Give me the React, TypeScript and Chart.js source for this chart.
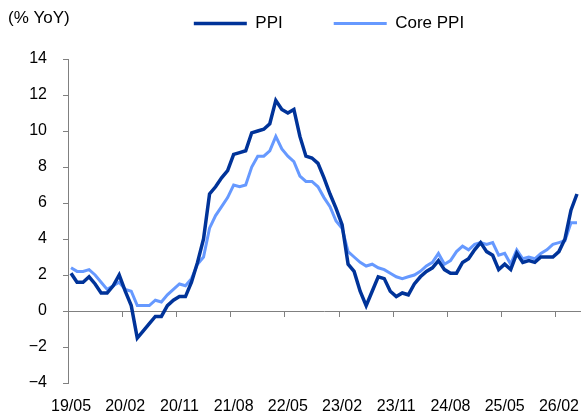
import React, { useEffect, useRef } from 'react';
import { Chart, registerables } from 'chart.js';

Chart.register(...registerables);

const months = [
  '19/05', '19/06', '19/07', '19/08', '19/09', '19/10', '19/11', '19/12',
  '20/01', '20/02', '20/03', '20/04', '20/05', '20/06', '20/07', '20/08', '20/09', '20/10', '20/11', '20/12',
  '21/01', '21/02', '21/03', '21/04', '21/05', '21/06', '21/07', '21/08', '21/09', '21/10', '21/11', '21/12',
  '22/01', '22/02', '22/03', '22/04', '22/05', '22/06', '22/07', '22/08', '22/09', '22/10', '22/11', '22/12',
  '23/01', '23/02', '23/03', '23/04', '23/05', '23/06', '23/07', '23/08', '23/09', '23/10', '23/11', '23/12',
  '24/01', '24/02', '24/03', '24/04', '24/05', '24/06', '24/07', '24/08', '24/09', '24/10', '24/11', '24/12',
  '25/01', '25/02', '25/03', '25/04', '25/05', '25/06', '25/07', '25/08', '25/09', '25/10', '25/11', '25/12',
  '26/01', '26/02', '26/03', '26/04', '26/05',
];

const tickLabels = ['19/05', '20/02', '20/11', '21/08', '22/05', '23/02', '23/11', '24/08', '25/05', '26/02'];

const ppi = [
  2.1, 1.6, 1.6, 1.9, 1.5, 1.0, 1.0, 1.4, 2.0, 1.1,
  0.3, -1.5, -1.1, -0.7, -0.3, -0.3, 0.3, 0.6, 0.8, 0.8,
  1.6, 2.7, 4.0, 6.5, 6.9, 7.4, 7.8, 8.7, 8.8, 8.9,
  9.9, 10.0, 10.1, 10.4, 11.7, 11.2, 11.0, 11.2, 9.7, 8.6,
  8.5, 8.2, 7.4, 6.5, 5.7, 4.8, 2.6, 2.2, 1.1, 0.3,
  1.1, 1.9, 1.8, 1.1, 0.8, 1.0, 0.9, 1.5, 1.9, 2.2,
  2.4, 2.8, 2.3, 2.1, 2.1, 2.7, 2.9, 3.4, 3.8, 3.3,
  3.1, 2.3, 2.6, 2.3, 3.2, 2.7, 2.8, 2.7, 3.0, 3.0,
  3.0, 3.3, 4.0, 5.6, 6.5,
];

const corePpi = [
  2.4, 2.2, 2.2, 2.3, 2.0, 1.6, 1.2, 1.4, 1.6, 1.2,
  1.1, 0.3, 0.3, 0.3, 0.6, 0.5, 0.9, 1.2, 1.5, 1.4,
  1.8, 2.6, 3.0, 4.6, 5.3, 5.8, 6.3, 7.0, 6.9, 7.0,
  8.0, 8.6, 8.6, 8.9, 9.7, 9.0, 8.6, 8.3, 7.5, 7.2,
  7.2, 6.9, 6.3, 5.8, 5.0, 4.6, 3.3, 3.0, 2.7, 2.5,
  2.6, 2.4, 2.3, 2.1, 1.9, 1.8, 1.9, 2.0, 2.2, 2.5,
  2.7, 3.2, 2.6, 2.8, 3.3, 3.6, 3.4, 3.7, 3.8, 3.7,
  3.8, 3.1, 3.2, 2.6, 3.4, 2.9, 3.0, 2.9, 3.2, 3.4,
  3.7, 3.8, 3.9, 4.9, 4.9,
];

const seriesNames = ['PPI', 'Core PPI'];
const unitLabel = '(% YoY)';
const yMin = -4;
const yMax = 14;
const yStep = 2;

const FONT = '"Liberation Sans", Arial, Helvetica, sans-serif';
const AXIS = '#808080';
const DARK = '#003399';
const LIGHT = '#6699ff';

const isTick = (i: number) => tickLabels.includes(months[i]);

// Places the legend row on the same line as the unit title.
const legendPlacement = {
  id: 'legendPlacement',
  afterLayout(chart: any) {
    const lg = chart.legend;
    if (!lg) return;
    const pad = lg.options.labels.padding;
    lg.top = 15 - pad;
    lg.left += 5;
    lg.right += 5;
  },
};

export default function App() {
  const ref = useRef<HTMLCanvasElement | null>(null);

  useEffect(() => {
    if (!ref.current) return;
    const chart = new Chart(ref.current, {
      type: 'line',
      data: {
        labels: months,
        datasets: [
          {
            label: seriesNames[0],
            data: ppi,
            borderColor: DARK,
            backgroundColor: DARK,
            borderWidth: 3.5,
            pointRadius: 0,
            tension: 0,
            xAxisID: 'x',
            yAxisID: 'y',
          },
          {
            label: seriesNames[1],
            data: corePpi,
            borderColor: LIGHT,
            backgroundColor: LIGHT,
            borderWidth: 3,
            pointRadius: 0,
            tension: 0,
            xAxisID: 'x',
            yAxisID: 'y',
          },
        ],
      },
      plugins: [legendPlacement],
      options: {
        responsive: false,
        animation: false,
        events: [],
        layout: { padding: { top: 0, left: 8, right: 2, bottom: 0 } },
        plugins: {
          tooltip: { enabled: false },
          title: {
            display: true,
            text: unitLabel,
            align: 'start',
            color: '#000',
            font: { family: FONT, size: 17, weight: 'normal' },
            padding: { top: 8, bottom: 0 },
          },
          legend: {
            display: true,
            position: 'top',
            fullSize: false,
            maxHeight: 30.6,
            labels: {
              usePointStyle: true,
              pointStyle: 'line',
              pointStyleWidth: 53,
              padding: 51,
              color: '#000',
              font: { family: FONT, size: 17 },
            },
          },
        },
        scales: {
          x: {
            type: 'category',
            position: 'bottom',
            offset: true,
            grid: { display: false, drawTicks: false },
            border: { display: false },
            ticks: {
              autoSkip: false,
              maxRotation: 0,
              minRotation: 0,
              padding: 14,
              color: '#000',
              font: { family: FONT, size: 16 },
              callback: (_v: any, i: number) => (isTick(i) ? months[i] : ''),
            },
            afterFit: (scale: any) => {
              scale.height = 36;
              scale.paddingRight = 0;
            },
          },
          x2: {
            type: 'category',
            axis: 'x',
            position: { y: 0 },
            offset: true,
            grid: {
              display: true,
              offset: true,
              drawOnChartArea: false,
              drawTicks: true,
              tickLength: 5,
              lineWidth: 1,
              color: (ctx: any) => (typeof ctx.index === 'number' && isTick(ctx.index) ? AXIS : 'rgba(0,0,0,0)'),
              tickColor: (ctx: any) => (typeof ctx.index === 'number' && isTick(ctx.index) ? AXIS : 'rgba(0,0,0,0)'),
            },
            border: { display: true, color: AXIS, width: 1 },
            ticks: { display: false, autoSkip: false, padding: 0 },
            afterFit: (scale: any) => {
              scale.paddingRight = 0;
              scale.paddingLeft = 0;
            },
          },
          y: {
            type: 'linear',
            position: 'left',
            min: yMin,
            max: yMax,
            grid: {
              display: true,
              drawOnChartArea: false,
              drawTicks: true,
              tickLength: 5,
              color: AXIS,
            },
            border: { display: true, color: AXIS, width: 1 },
            ticks: {
              stepSize: yStep,
              padding: 16,
              color: '#000',
              font: { family: FONT, size: 16 },
              callback: (v: any) => (Number(v) < 0 ? '\u2212' + Math.abs(Number(v)) : String(v)),
            },
            afterFit: (scale: any) => {
              scale.width = 60;
            },
          },
        },
      },
    } as any);
    return () => chart.destroy();
  }, []);

  return (
    <div style={{ position: 'absolute', left: 0, top: 0, width: 582, height: 419, background: '#fff' }}>
      <canvas ref={ref} width={582} height={419} style={{ display: 'block' }} />
    </div>
  );
}
